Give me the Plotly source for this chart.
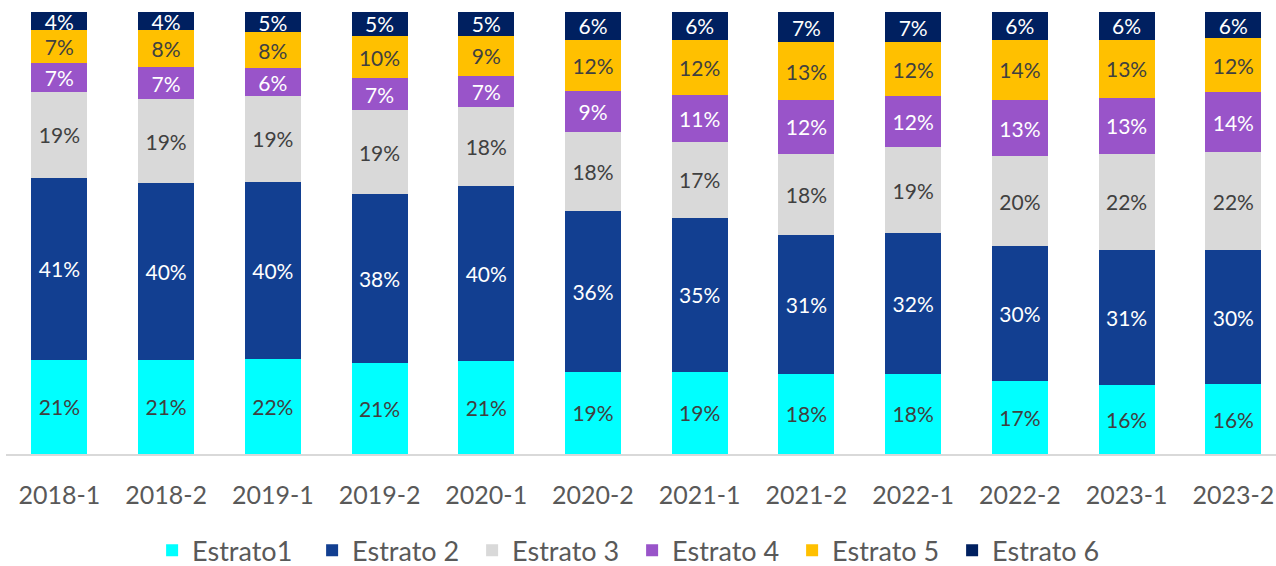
import plotly.graph_objects as go

categories = ["2018-1", "2018-2", "2019-1", "2019-2", "2020-1", "2020-2",
              "2021-1", "2021-2", "2022-1", "2022-2", "2023-1", "2023-2"]

estrato1 = [21.3, 21.3, 21.6, 20.6, 21.1, 18.6, 18.6, 18.2, 18.2, 16.6, 15.6, 15.8]
estrato2 = [41.2, 40.0, 40.0, 38.2, 39.6, 36.4, 34.9, 31.4, 31.8, 30.4, 30.6, 30.3]
estrato3 = [19.4, 19.0, 19.4, 19.0, 17.7, 17.8, 17.2, 18.3, 19.4, 20.4, 21.7, 22.2]
estrato4 = [6.6, 7.2, 6.3, 7.2, 7.2, 9.3, 10.6, 12.2, 11.6, 12.7, 12.7, 13.6]
estrato5 = [7.4, 8.4, 8.1, 9.6, 9.0, 11.6, 12.4, 13.1, 12.2, 13.6, 13.1, 12.2]
estrato6 = [4.1, 4.1, 4.6, 5.4, 5.4, 6.3, 6.3, 6.8, 6.8, 6.3, 6.3, 5.9]

series_names = ["Estrato1", "Estrato 2", "Estrato 3", "Estrato 4", "Estrato 5", "Estrato 6"]
series_values = [estrato1, estrato2, estrato3, estrato4, estrato5, estrato6]
colors = ["#00FFFF", "#123F91", "#D9D9D9", "#9954C9", "#FFC000", "#002060"]
text_colors = ["#404040", "#FFFFFF", "#404040", "#FFFFFF", "#404040", "#FFFFFF"]

FONT = "Lato"

fig = go.Figure()
for name, vals, col, tcol in zip(series_names, series_values, colors, text_colors):
    fig.add_trace(go.Bar(
        x=categories, y=vals, name=name,
        marker=dict(color=col, line=dict(width=0)),
        width=0.525,
        text=[f"{round(v):d}%" for v in vals],
        textposition="inside",
        insidetextanchor="middle",
        textangle=0,
        constraintext="none",
        textfont=dict(family=FONT, size=21, color=tcol),
        hoverinfo="skip",
    ))

fig.update_layout(
    barmode="stack",
    width=1276, height=566,
    margin=dict(l=6, r=0, t=12, b=112, autoexpand=False),
    paper_bgcolor="white", plot_bgcolor="white",
    showlegend=True,
    legend=dict(orientation="h", x=0.493, xanchor="center",
                y=-0.219, yanchor="middle",
                font=dict(family=FONT, size=27, color="#595959"),
                traceorder="normal", entrywidth=115),
    xaxis=dict(type="category", range=[-0.5, 11.4], automargin=False, showgrid=False,
               showline=True, linecolor="#D9D9D9", linewidth=2, ticks="outside",
               ticklen=18, tickcolor="rgba(0,0,0,0)",
               tickfont=dict(family=FONT, size=25, color="#595959"), fixedrange=True),
    yaxis=dict(range=[0, 100], visible=False, showgrid=False, fixedrange=True,
               automargin=False),
)

fig.write_html("out.html",
               config={"displayModeBar": False, "staticPlot": True},
               post_script="document.body.style.margin='0';document.body.style.overflow='hidden';")
